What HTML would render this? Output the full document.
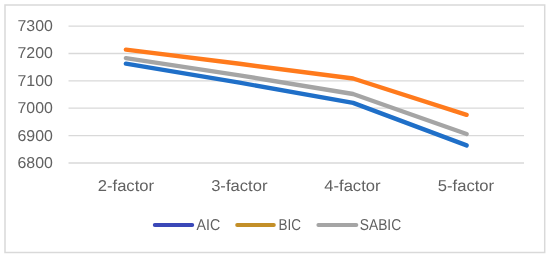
<!DOCTYPE html>
<html><head><meta charset="utf-8">
<style>
html,body{margin:0;padding:0;background:#fff;}
body{width:550px;height:260px;overflow:hidden;}
svg{display:block;will-change:transform;}
text{font-family:"Liberation Sans",sans-serif;font-size:15.75px;fill:#616161;text-rendering:geometricPrecision;}
</style></head>
<body>
<svg width="550" height="260" viewBox="0 0 550 260">
<rect x="0" y="0" width="550" height="260" fill="#fff"/>
<rect x="5" y="5" width="539.7" height="247.5" fill="none" stroke="#d9d9d9" stroke-width="1.5"/>
<g stroke="#d9d9d9" stroke-width="1.3">
<line x1="68.5" y1="26.2" x2="524" y2="26.2"/>
<line x1="68.5" y1="53.5" x2="524" y2="53.5"/>
<line x1="68.5" y1="80.9" x2="524" y2="80.9"/>
<line x1="68.5" y1="108.2" x2="524" y2="108.2"/>
<line x1="68.5" y1="135.6" x2="524" y2="135.6"/>
<line x1="68.5" y1="163" x2="524" y2="163"/>
</g>
<g text-anchor="end">
<text x="52.9" y="31.1" textLength="35.4" lengthAdjust="spacingAndGlyphs">7300</text>
<text x="52.9" y="58.4" textLength="35.4" lengthAdjust="spacingAndGlyphs">7200</text>
<text x="52.9" y="85.8" textLength="35.4" lengthAdjust="spacingAndGlyphs">7100</text>
<text x="52.9" y="113.1" textLength="35.4" lengthAdjust="spacingAndGlyphs">7000</text>
<text x="52.9" y="140.5" textLength="35.4" lengthAdjust="spacingAndGlyphs">6900</text>
<text x="52.9" y="167.9" textLength="35.4" lengthAdjust="spacingAndGlyphs">6800</text>
</g>
<g text-anchor="middle">
<text x="125.9" y="191" textLength="56.3" lengthAdjust="spacingAndGlyphs">2-factor</text>
<text x="239.3" y="191" textLength="56.3" lengthAdjust="spacingAndGlyphs">3-factor</text>
<text x="352.4" y="191" textLength="56.3" lengthAdjust="spacingAndGlyphs">4-factor</text>
<text x="466.0" y="191" textLength="56.3" lengthAdjust="spacingAndGlyphs">5-factor</text>
</g>
<g fill="none" stroke-width="4.4" stroke-linecap="round" stroke-linejoin="round">
<polyline stroke="#ff7a1c" points="125.9,49.6 239.5,63.8 353.1,78.5 466.6,114.8"/>
<polyline stroke="#a5a5a5" points="125.9,58.1 239.5,75.4 353.1,94 466.6,134"/>
<polyline stroke="#1f6fc8" points="125.9,63.7 239.5,82.7 353.1,102.9 466.6,145.4"/>
</g>
<g fill="none" stroke-width="4" stroke-linecap="round">
<line x1="154.8" y1="224.9" x2="192.2" y2="224.9" stroke="#3a48b8"/>
<line x1="237.2" y1="224.9" x2="273.8" y2="224.9" stroke="#c38f28"/>
<line x1="318.4" y1="224.9" x2="356.3" y2="224.9" stroke="#a5a5a5"/>
</g>
<text x="196.5" y="229.5" textLength="23.7" lengthAdjust="spacingAndGlyphs">AIC</text>
<text x="278.6" y="229.5" textLength="22.5" lengthAdjust="spacingAndGlyphs">BIC</text>
<text x="359.75" y="229.5" textLength="41.4" lengthAdjust="spacingAndGlyphs">SABIC</text>
</svg>
</body></html>
